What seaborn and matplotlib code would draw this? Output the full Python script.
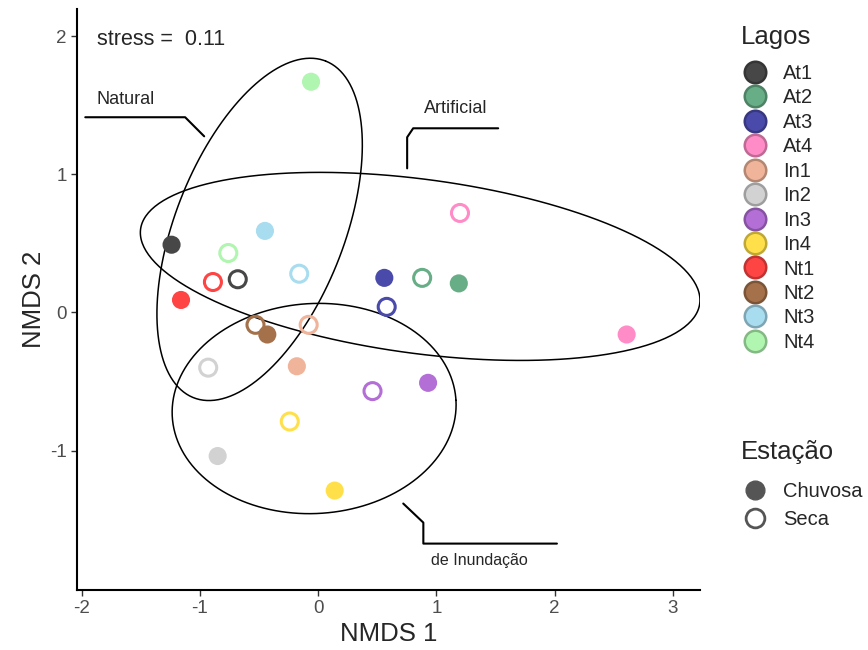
import matplotlib
matplotlib.use("Agg")
import matplotlib.pyplot as plt
import matplotlib.colors as mcolors
from matplotlib.lines import Line2D
import seaborn as sns
import pandas as pd
import numpy as np

# NMDS scores
lago = ["Nt4", "At4", "Nt3", "At1", "Nt4", "Nt3", "Nt1", "At1", "At3", "At2", "At2", "Nt1",
        "At3", "Nt2", "In1", "Nt2", "At4", "In2", "In1", "In3", "In3", "In4", "In2", "In4"]
estacao = ["Chuvosa", "Seca", "Chuvosa", "Chuvosa", "Seca", "Seca", "Seca", "Seca", "Chuvosa", "Seca",
           "Chuvosa", "Chuvosa", "Seca", "Seca", "Seca", "Chuvosa", "Chuvosa", "Seca", "Chuvosa", "Seca",
           "Chuvosa", "Seca", "Chuvosa", "Chuvosa"]
nmds1 = [-0.06, 1.20, -0.45, -1.24, -0.76, -0.16, -0.89, -0.68, 0.56, 0.88,
         1.19, -1.16, 0.58, -0.53, -0.08, -0.43, 2.61, -0.93, -0.18, 0.46,
         0.93, -0.24, -0.85, 0.14]
nmds2 = [1.67, 0.72, 0.59, 0.49, 0.43, 0.28, 0.22, 0.24, 0.25, 0.25,
         0.21, 0.09, 0.04, -0.09, -0.09, -0.16, -0.16, -0.40, -0.39, -0.57,
         -0.51, -0.79, -1.04, -1.29]

lagos = ["At1", "At2", "At3", "At4", "In1", "In2", "In3", "In4", "Nt1", "Nt2", "Nt3", "Nt4"]
cores = ["#474747", "#67AD86", "#4A4AAA", "#FF8CC6", "#F0B49A", "#D2D2D2",
         "#B36FD6", "#FFE04A", "#FF4444", "#A5714A", "#A8DCEF", "#B0F5B0"]

# ellipses: centre and the two half-axis vectors (data units)
grupos = ["Natural", "Artificial", "de Inundação"]
centro = [(-0.495, 0.601), (0.863, 0.333), (-0.034, -0.696)]
eixo_u = [(0.558, 1.219), (2.365, -0.270), (1.200, 0.059)]
eixo_v = [(0.666, -0.223), (-0.097, -0.625), (0.051, -0.759)]

# label brackets
rot_x = {"Natural": [-1.97, -1.125, -0.964],
         "Artificial": [0.753, 0.753, 0.804, 1.523],
         "de Inundação": [0.72, 0.89, 0.89, 2.02]}
rot_y = {"Natural": [1.413, 1.413, 1.275],
         "Artificial": [1.043, 1.268, 1.333, 1.333],
         "de Inundação": [-1.384, -1.522, -1.674, -1.674]}
rot_txt = {"Natural": (-1.63, 1.543), "Artificial": (1.16, 1.478), "de Inundação": (1.36, -1.797)}
rot_tam = {"Natural": 13, "Artificial": 13, "de Inundação": 11.5}

df = pd.DataFrame({"Lago": lago, "Estação": estacao, "NMDS1": nmds1, "NMDS2": nmds2})
pal = dict(zip(lagos, cores))

sns.set_style("ticks")
plt.rcParams["font.family"] = ["Liberation Sans", "DejaVu Sans"]
plt.rcParams["axes.unicode_minus"] = False

fig = plt.figure(figsize=(8.68, 6.5), dpi=100)
ax = fig.add_axes([0.0887, 0.0923, 0.7177, 0.8937])

# ellipses
t = np.linspace(0, 2 * np.pi, 300)
for c, u, v in zip(centro, eixo_u, eixo_v):
    ex = c[0] + u[0] * np.cos(t) + v[0] * np.sin(t)
    ey = c[1] + u[1] * np.cos(t) + v[1] * np.sin(t)
    ax.plot(ex, ey, color="black", lw=1.1, zorder=1)

# open (Seca) points
seca = df[df["Estação"] == "Seca"]
sns.scatterplot(data=seca, x="NMDS1", y="NMDS2", hue="Lago", palette=pal,
                s=150, linewidth=0, legend=False, ax=ax, zorder=3)
coll = ax.collections[-1]
fc = coll.get_facecolors()
coll.set_edgecolors(fc)
coll.set_facecolors("none")
coll.set_linewidths(2.2)

# filled (Chuvosa) points
chuv = df[df["Estação"] == "Chuvosa"]
sns.scatterplot(data=chuv, x="NMDS1", y="NMDS2", hue="Lago", palette=pal,
                s=170, linewidth=0, legend=False, ax=ax, zorder=4)

# brackets and labels
for g in grupos:
    ax.plot(rot_x[g], rot_y[g], color="black", lw=1.5, zorder=2)
    ax.text(rot_txt[g][0], rot_txt[g][1], g, ha="center", va="center", fontsize=rot_tam[g])

ax.text(-1.87, 1.978, "stress =  0.11", ha="left", va="center", fontsize=15.5)

ax.set_xlim(-2.04, 3.23)
ax.set_ylim(-2.01, 2.196)
ax.set_xticks([-2, -1, 0, 1, 2, 3])
ax.set_yticks([-1, 0, 1, 2])
ax.set_xlabel("NMDS 1", fontsize=18.5, labelpad=3)
ax.set_ylabel("NMDS 2", fontsize=18.5, labelpad=3)
ax.tick_params(labelsize=13.5, labelcolor="#4D4D4D", color="#333333", length=4, width=1)
sns.despine(ax=ax)
for s in ["left", "bottom"]:
    ax.spines[s].set_linewidth(1.5)
    ax.spines[s].set_color("black")

# legends
def escurecer(c, f=0.75):
    r, g, b = mcolors.to_rgb(c)
    return (r * f, g * f, b * f)

fig.text(0.854, 0.943, "Lagos", ha="left", va="center", fontsize=18.5)
h1 = [Line2D([], [], marker="o", ls="none", markersize=15.5, markerfacecolor=c,
             markeredgecolor=escurecer(c), markeredgewidth=1.8) for c in cores]
fig.legend(h1, lagos, loc="upper left", bbox_to_anchor=(0.856, 0.9015),
           frameon=False, fontsize=14.5, labelspacing=0.27, handlelength=1.2,
           handletextpad=0.8, borderpad=0, borderaxespad=0)

fig.text(0.854, 0.305, "Estação", ha="left", va="center", fontsize=18.5)
h2 = [Line2D([], [], marker="o", ls="none", markersize=13.5, markerfacecolor="#555555",
             markeredgecolor="#555555"),
      Line2D([], [], marker="o", ls="none", markersize=13.5, markerfacecolor="none",
             markeredgecolor="#555555", markeredgewidth=2)]
fig.legend(h2, ["Chuvosa", "Seca"], loc="upper left", bbox_to_anchor=(0.856, 0.258),
           frameon=False, fontsize=14.5, labelspacing=0.45, handlelength=1.2,
           handletextpad=0.8, borderpad=0, borderaxespad=0)

fig.savefig("out.png", dpi=100)
